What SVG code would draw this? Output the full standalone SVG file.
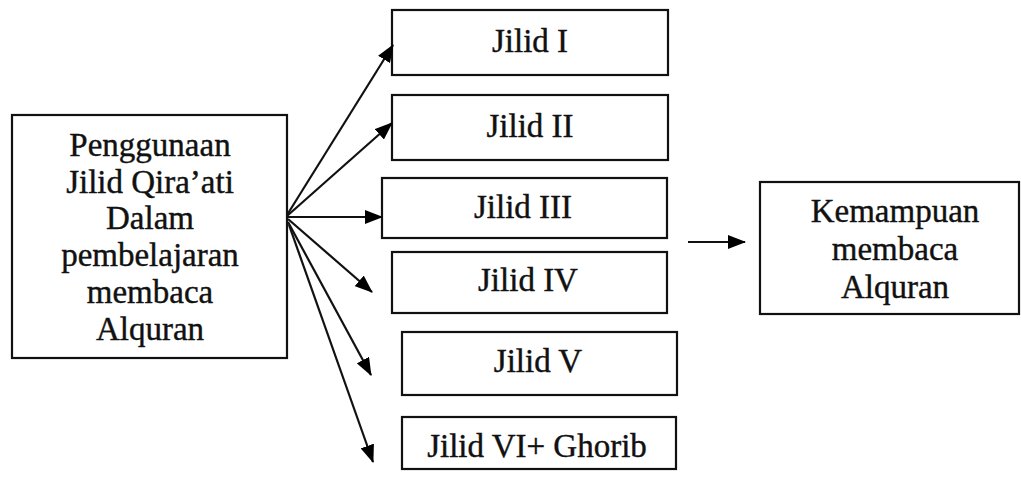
<svg xmlns="http://www.w3.org/2000/svg" width="1021" height="479" viewBox="0 0 1021 479">
<defs>
<marker id="ah" markerWidth="18" markerHeight="14" refX="17" refY="7" orient="auto" markerUnits="userSpaceOnUse">
<path d="M0,0 L18,7 L0,14 Z" fill="#000"/>
</marker>
<style>
.box{fill:#fff;stroke:#111;stroke-width:2.2}
.t{font-family:'Liberation Serif','Times New Roman',serif;font-size:33px;fill:#111;stroke:#111;stroke-width:0.4;text-anchor:middle}
.c{stroke:#111;stroke-width:2.2;fill:none;marker-end:url(#ah)}
</style>
</defs>
<rect width="1021" height="479" fill="#fff"/>
<g id="source">
<rect class="box" x="12" y="115" width="275" height="243"/>
<text class="t" x="150" y="156">Penggunaan</text>
<text class="t" x="150" y="193">Jilid Qira’ati</text>
<text class="t" x="150" y="229">Dalam</text>
<text class="t" x="150" y="266">pembelajaran</text>
<text class="t" x="150" y="303">membaca</text>
<text class="t" x="150" y="340">Alquran</text>
</g>
<g id="jilid1">
<rect class="box" x="392" y="10" width="276" height="65"/>
<text class="t" x="530" y="52">Jilid I</text>
</g>
<g id="jilid2">
<rect class="box" x="392" y="95" width="276" height="65"/>
<text class="t" x="530" y="137">Jilid II</text>
</g>
<g id="jilid3">
<rect class="box" x="382" y="178" width="285" height="60"/>
<text class="t" x="523" y="218">Jilid III</text>
</g>
<g id="jilid4">
<rect class="box" x="392" y="252" width="275" height="61"/>
<text class="t" x="528" y="291">Jilid IV</text>
</g>
<g id="jilid5">
<rect class="box" x="402" y="332" width="275" height="63"/>
<text class="t" x="538" y="372">Jilid V</text>
</g>
<g id="jilid6">
<rect class="box" x="402" y="417" width="274" height="52"/>
<text class="t" x="537" y="457">Jilid VI+ Ghorib</text>
</g>
<g id="result">
<rect class="box" x="760" y="182" width="259" height="132"/>
<text class="t" x="895" y="222">Kemampuan</text>
<text class="t" x="895" y="260">membaca</text>
<text class="t" x="895" y="298">Alquran</text>
</g>
<g id="connectors">
<line class="c" x1="287" y1="215" x2="393" y2="45"/>
<line class="c" x1="287" y1="216" x2="392" y2="123"/>
<line class="c" x1="287" y1="217" x2="382" y2="217"/>
<line class="c" x1="288" y1="219" x2="372" y2="292"/>
<line class="c" x1="288" y1="222" x2="371" y2="375"/>
<line class="c" x1="289" y1="225" x2="373" y2="462"/>
<line class="c" x1="688" y1="242" x2="745" y2="242"/>
</g>
</svg>
